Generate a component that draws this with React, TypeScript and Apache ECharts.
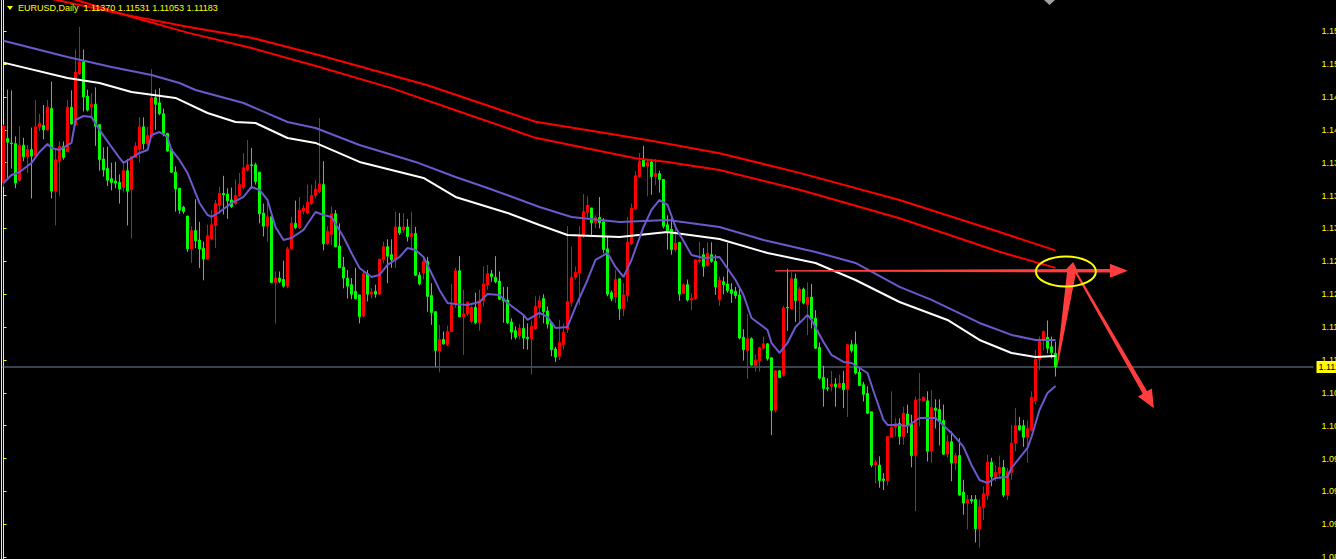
import React, { useEffect, useRef } from "react";
import * as echarts from "echarts";

const W = 1336;
const H = 559;

// ---- Chart data (EURUSD, Daily) ----
const symbolTitle = "EURUSD,Daily  1.11370 1.11531 1.11053 1.11183";
const lastPrice = 1.11183;
const slotCount = 328; // bar slots on the time axis (264 bars + chart shift)
const categories = Array.from({ length: slotCount }, (_, i) => `D${i + 1}`);

const open = [
  1.1371, 1.1431, 1.1425, 1.1424, 1.1374, 1.1422, 1.1406, 1.1416, 1.1407, 1.1447,
  1.1449, 1.1443, 1.1472, 1.1359, 1.1401, 1.1420, 1.1413, 1.1474, 1.1450, 1.1520,
  1.1536, 1.1489, 1.1474, 1.1478, 1.1450, 1.1403, 1.1390, 1.1376, 1.1373, 1.1371,
  1.1364, 1.1387, 1.1361, 1.1405, 1.1416, 1.1447, 1.1424, 1.1434, 1.1487, 1.1480,
  1.1465, 1.1438, 1.1416, 1.1385, 1.1363, 1.1337, 1.1325, 1.1280, 1.1305, 1.1292,
  1.1281, 1.1266, 1.1294, 1.1312, 1.1340, 1.1356, 1.1355, 1.1347, 1.1342, 1.1353,
  1.1364, 1.1388, 1.1395, 1.1395, 1.1385, 1.1329, 1.1311, 1.1324, 1.1234, 1.1240,
  1.1238, 1.1229, 1.1280, 1.1315, 1.1309, 1.1332, 1.1329, 1.1342, 1.1353, 1.1358,
  1.1368, 1.1287, 1.1300, 1.1328, 1.1284, 1.1255, 1.1240, 1.1231, 1.1222, 1.1217,
  1.1188, 1.1246, 1.1218, 1.1222, 1.1218, 1.1265, 1.1283, 1.1272, 1.1265, 1.1310,
  1.1306, 1.1310, 1.1297, 1.1301, 1.1244, 1.1247, 1.1263, 1.1216, 1.1194, 1.1140,
  1.1156, 1.1149, 1.1167, 1.1203, 1.1250, 1.1187, 1.1191, 1.1181, 1.1200, 1.1179,
  1.1209, 1.1231, 1.1246, 1.1241, 1.1236, 1.1212, 1.1210, 1.1180, 1.1168, 1.1161,
  1.1171, 1.1159, 1.1157, 1.1171, 1.1200, 1.1212, 1.1195, 1.1179, 1.1143, 1.1133,
  1.1149, 1.1170, 1.1207, 1.1241, 1.1247, 1.1299, 1.1330, 1.1336, 1.1316, 1.1323,
  1.1317, 1.1280, 1.1220, 1.1214, 1.1239, 1.1198, 1.1216, 1.1287, 1.1335, 1.1379,
  1.1402, 1.1393, 1.1399, 1.1379, 1.1383, 1.1375, 1.1313, 1.1307, 1.1279, 1.1289,
  1.1219, 1.1231, 1.1210, 1.1212, 1.1263, 1.1272, 1.1257, 1.1272, 1.1263, 1.1210,
  1.1235, 1.1232, 1.1224, 1.1222, 1.1217, 1.1159, 1.1141, 1.1157, 1.1120, 1.1127,
  1.1144, 1.1150, 1.1131, 1.1059, 1.1113, 1.1107, 1.1200, 1.1198, 1.1239, 1.1209,
  1.1225, 1.1204, 1.1214, 1.1185, 1.1145, 1.1104, 1.1090, 1.1092, 1.1095, 1.1090,
  1.1096, 1.1088, 1.1149, 1.1149, 1.1111, 1.1094, 1.1082, 1.1057, 1.0984, 1.0984,
  1.0965, 1.0963, 1.1022, 1.1036, 1.1041, 1.1023, 1.1054, 1.1040, 1.0997, 1.1073,
  1.1072, 1.1072, 1.1003, 1.1062, 1.1060, 1.1045, 1.0999, 1.1016, 1.0987, 1.0997,
  1.0947, 1.0932, 1.0937, 1.0937, 1.0897, 1.0926, 1.0943, 1.0988, 1.0968, 1.0973,
  1.0981, 1.0943, 1.0974, 1.1014, 1.1038, 1.1038, 1.1022, 1.1032, 1.1072, 1.1129,
  1.1156, 1.1159, 1.1146, 1.1137,
];

const high = [
  1.1450, 1.1498, 1.1497, 1.1434, 1.1448, 1.1432, 1.1422, 1.1446, 1.1484, 1.1465,
  1.1477, 1.1484, 1.1509, 1.1418, 1.1427, 1.1427, 1.1484, 1.1497, 1.1553, 1.1584,
  1.1553, 1.1498, 1.1493, 1.1501, 1.1450, 1.1419, 1.1420, 1.1398, 1.1399, 1.1382,
  1.1399, 1.1403, 1.1406, 1.1426, 1.1460, 1.1460, 1.1447, 1.1526, 1.1498, 1.1500,
  1.1472, 1.1439, 1.1416, 1.1393, 1.1363, 1.1339, 1.1325, 1.1311, 1.1348, 1.1317,
  1.1290, 1.1313, 1.1333, 1.1347, 1.1365, 1.1380, 1.1363, 1.1364, 1.1375, 1.1384,
  1.1411, 1.1429, 1.1418, 1.1398, 1.1385, 1.1342, 1.1349, 1.1329, 1.1249, 1.1249,
  1.1264, 1.1283, 1.1324, 1.1346, 1.1351, 1.1340, 1.1368, 1.1368, 1.1374, 1.1459,
  1.1400, 1.1311, 1.1338, 1.1333, 1.1315, 1.1269, 1.1251, 1.1240, 1.1254, 1.1217,
  1.1249, 1.1251, 1.1226, 1.1231, 1.1266, 1.1290, 1.1293, 1.1293, 1.1331, 1.1329,
  1.1329, 1.1321, 1.1331, 1.1310, 1.1248, 1.1270, 1.1269, 1.1233, 1.1194, 1.1176,
  1.1167, 1.1175, 1.1232, 1.1254, 1.1270, 1.1224, 1.1208, 1.1202, 1.1220, 1.1224,
  1.1256, 1.1258, 1.1251, 1.1270, 1.1249, 1.1228, 1.1228, 1.1185, 1.1174, 1.1177,
  1.1190, 1.1178, 1.1182, 1.1215, 1.1216, 1.1218, 1.1201, 1.1180, 1.1146, 1.1183,
  1.1178, 1.1311, 1.1283, 1.1256, 1.1311, 1.1355, 1.1352, 1.1336, 1.1326, 1.1351,
  1.1322, 1.1297, 1.1223, 1.1251, 1.1239, 1.1233, 1.1324, 1.1342, 1.1386, 1.1411,
  1.1421, 1.1403, 1.1403, 1.1403, 1.1387, 1.1375, 1.1326, 1.1322, 1.1308, 1.1289,
  1.1233, 1.1238, 1.1219, 1.1265, 1.1290, 1.1281, 1.1289, 1.1289, 1.1272, 1.1242,
  1.1242, 1.1288, 1.1233, 1.1228, 1.1228, 1.1170, 1.1191, 1.1159, 1.1135, 1.1146,
  1.1160, 1.1151, 1.1131, 1.1114, 1.1114, 1.1202, 1.1253, 1.1248, 1.1246, 1.1228,
  1.1227, 1.1234, 1.1232, 1.1196, 1.1152, 1.1120, 1.1103, 1.1113, 1.1103, 1.1108,
  1.1113, 1.1149, 1.1155, 1.1167, 1.1117, 1.1098, 1.1092, 1.1057, 1.0991, 1.0996,
  1.0973, 1.1023, 1.1085, 1.1048, 1.1048, 1.1064, 1.1067, 1.1053, 1.1078, 1.1110,
  1.1078, 1.1085, 1.1087, 1.1074, 1.1074, 1.1067, 1.1025, 1.1030, 1.1001, 1.1021,
  1.0964, 1.0943, 1.0943, 1.0943, 1.0937, 1.0955, 1.0998, 1.0994, 1.0984, 1.0997,
  1.0991, 1.0980, 1.1039, 1.1062, 1.1050, 1.1046, 1.1045, 1.1085, 1.1142, 1.1160,
  1.1168, 1.1182, 1.1160, 1.11531,
];

const low = [
  1.1365, 1.1374, 1.1390, 1.1363, 1.1372, 1.1400, 1.1384, 1.1349, 1.1406, 1.1441,
  1.1430, 1.1441, 1.1349, 1.1312, 1.1352, 1.1402, 1.1413, 1.1450, 1.1448, 1.1518,
  1.1468, 1.1468, 1.1461, 1.1421, 1.1387, 1.1379, 1.1366, 1.1360, 1.1363, 1.1342,
  1.1357, 1.1312, 1.1294, 1.1405, 1.1398, 1.1416, 1.1422, 1.1434, 1.1443, 1.1463,
  1.1434, 1.1413, 1.1384, 1.1331, 1.1328, 1.1328, 1.1276, 1.1261, 1.1281, 1.1254,
  1.1237, 1.1265, 1.1292, 1.1281, 1.1328, 1.1327, 1.1321, 1.1336, 1.1340, 1.1351,
  1.1361, 1.1386, 1.1362, 1.1368, 1.1315, 1.1297, 1.1290, 1.1233, 1.1178, 1.1233,
  1.1227, 1.1226, 1.1279, 1.1307, 1.1307, 1.1327, 1.1327, 1.1340, 1.1349, 1.1356,
  1.1278, 1.1285, 1.1285, 1.1282, 1.1254, 1.1226, 1.1212, 1.1211, 1.1211, 1.1178,
  1.1187, 1.1208, 1.1212, 1.1213, 1.1218, 1.1260, 1.1233, 1.1254, 1.1254, 1.1299,
  1.1302, 1.1290, 1.1279, 1.1243, 1.1230, 1.1238, 1.1194, 1.1176, 1.1119, 1.1111,
  1.1149, 1.1147, 1.1167, 1.1199, 1.1187, 1.1135, 1.1188, 1.1178, 1.1177, 1.1168,
  1.1201, 1.1224, 1.1235, 1.1233, 1.1210, 1.1179, 1.1177, 1.1156, 1.1156, 1.1156,
  1.1143, 1.1142, 1.1108, 1.1169, 1.1185, 1.1178, 1.1171, 1.1133, 1.1125, 1.1128,
  1.1142, 1.1165, 1.1201, 1.1238, 1.1203, 1.1295, 1.1320, 1.1296, 1.1308, 1.1308,
  1.1274, 1.1215, 1.1208, 1.1206, 1.1183, 1.1188, 1.1208, 1.1285, 1.1333, 1.1377,
  1.1392, 1.1352, 1.1354, 1.1367, 1.1357, 1.1308, 1.1279, 1.1272, 1.1276, 1.1209,
  1.1218, 1.1208, 1.1196, 1.1210, 1.1260, 1.1242, 1.1256, 1.1261, 1.1217, 1.1202,
  1.1218, 1.1220, 1.1206, 1.1212, 1.1156, 1.1127, 1.1102, 1.1120, 1.1112, 1.1112,
  1.1142, 1.1127, 1.1025, 1.1056, 1.1103, 1.1105, 1.1168, 1.1197, 1.1180, 1.1180,
  1.1204, 1.1162, 1.1171, 1.1143, 1.1101, 1.1064, 1.1085, 1.1085, 1.1064, 1.1089,
  1.1062, 1.1050, 1.1138, 1.1108, 1.1092, 1.1071, 1.1054, 1.0981, 1.0959, 1.0953,
  1.0950, 1.0956, 1.1021, 1.1023, 1.1012, 1.1012, 1.1028, 1.0981, 1.0921, 1.1037,
  1.1071, 1.0989, 1.0987, 1.1034, 1.1011, 1.0998, 1.0994, 1.0962, 1.0977, 1.0942,
  1.0916, 1.0896, 1.0931, 1.0878, 1.0871, 1.0909, 1.0936, 1.0955, 1.0962, 1.0968,
  1.0940, 1.0936, 1.0964, 1.1003, 1.1031, 1.1009, 1.0987, 1.1030, 1.1067, 1.1114,
  1.1142, 1.1137, 1.1130, 1.11053,
];

const close = [
  1.1448, 1.1426, 1.1424, 1.1370, 1.1422, 1.1406, 1.1416, 1.1407, 1.1447, 1.1452,
  1.1443, 1.1474, 1.1359, 1.1402, 1.1420, 1.1405, 1.1474, 1.1451, 1.1522, 1.1536,
  1.1488, 1.1470, 1.1478, 1.1448, 1.1402, 1.1388, 1.1374, 1.1371, 1.1370, 1.1362,
  1.1387, 1.1359, 1.1406, 1.1421, 1.1447, 1.1424, 1.1435, 1.1487, 1.1478, 1.1465,
  1.1438, 1.1414, 1.1385, 1.1362, 1.1333, 1.1331, 1.1280, 1.1305, 1.1291, 1.1280,
  1.1266, 1.1298, 1.1313, 1.1342, 1.1356, 1.1354, 1.1346, 1.1338, 1.1353, 1.1368,
  1.1391, 1.1395, 1.1394, 1.1372, 1.1328, 1.1311, 1.1324, 1.1234, 1.1240, 1.1235,
  1.1229, 1.1280, 1.1315, 1.1309, 1.1333, 1.1336, 1.1344, 1.1353, 1.1362, 1.1369,
  1.1287, 1.1304, 1.1328, 1.1283, 1.1254, 1.1240, 1.1229, 1.1218, 1.1212, 1.1187,
  1.1246, 1.1218, 1.1221, 1.1218, 1.1266, 1.1283, 1.1270, 1.1265, 1.1310, 1.1302,
  1.1310, 1.1297, 1.1301, 1.1244, 1.1232, 1.1263, 1.1215, 1.1193, 1.1141, 1.1156,
  1.1150, 1.1167, 1.1203, 1.1250, 1.1187, 1.1191, 1.1207, 1.1200, 1.1179, 1.1209,
  1.1232, 1.1246, 1.1242, 1.1235, 1.1211, 1.1209, 1.1179, 1.1166, 1.1159, 1.1171,
  1.1158, 1.1157, 1.1174, 1.1201, 1.1209, 1.1194, 1.1177, 1.1142, 1.1132, 1.1152,
  1.1166, 1.1208, 1.1241, 1.1248, 1.1299, 1.1331, 1.1340, 1.1316, 1.1323, 1.1316,
  1.1279, 1.1218, 1.1212, 1.1238, 1.1198, 1.1217, 1.1289, 1.1336, 1.1380, 1.1400,
  1.1393, 1.1398, 1.1379, 1.1383, 1.1375, 1.1311, 1.1305, 1.1279, 1.1288, 1.1218,
  1.1231, 1.1210, 1.1212, 1.1265, 1.1265, 1.1256, 1.1274, 1.1263, 1.1228, 1.1237,
  1.1231, 1.1223, 1.1219, 1.1216, 1.1158, 1.1142, 1.1157, 1.1121, 1.1128, 1.1145,
  1.1150, 1.1130, 1.1059, 1.1113, 1.1104, 1.1199, 1.1199, 1.1239, 1.1209, 1.1225,
  1.1206, 1.1214, 1.1184, 1.1144, 1.1103, 1.1089, 1.1089, 1.1095, 1.1091, 1.1096,
  1.1087, 1.1149, 1.1141, 1.1110, 1.1093, 1.1081, 1.1055, 1.0984, 1.0988, 1.0963,
  1.0963, 1.1023, 1.1036, 1.1041, 1.1023, 1.1055, 1.1039, 1.0997, 1.1073, 1.1074,
  1.1077, 1.1003, 1.1063, 1.1059, 1.1044, 1.0999, 1.1016, 1.0987, 1.0997, 1.0943,
  1.0932, 1.0937, 1.0935, 1.0897, 1.0927, 1.0945, 1.0988, 1.0968, 1.0974, 1.0981,
  1.0943, 1.0975, 1.1014, 1.1038, 1.1032, 1.1022, 1.1034, 1.1077, 1.1129, 1.1156,
  1.1167, 1.1144, 1.1138, 1.11183,
];

// Moving averages as [bar index, price]
const fastMA = [
  [0, 1.13702], [2, 1.13812], [4, 1.13853], [7, 1.13976], [9, 1.14126], [11, 1.14236],
  [12, 1.14181], [14, 1.14154], [17, 1.1425], [18, 1.14564], [20, 1.14619], [22, 1.14606],
  [24, 1.14428], [27, 1.14195], [29, 1.14044], [30, 1.13976], [32, 1.14044], [34, 1.14113],
  [36, 1.14154], [37, 1.14359], [39, 1.144], [41, 1.14332], [42, 1.14154], [44, 1.14017],
  [46, 1.13839], [49, 1.13428], [51, 1.13264], [52, 1.13237], [54, 1.13305], [57, 1.13428],
  [60, 1.13511], [62, 1.13647], [64, 1.13606], [66, 1.13469], [68, 1.131], [70, 1.12922],
  [72, 1.12949], [75, 1.13059], [78, 1.13305], [80, 1.13264], [82, 1.13237], [85, 1.12963],
  [87, 1.12744], [89, 1.12539], [92, 1.12415], [94, 1.12443], [96, 1.1258], [99, 1.12689],
  [101, 1.12812], [103, 1.12785], [105, 1.12689], [106, 1.1258], [109, 1.12238], [111, 1.1206],
  [113, 1.12046], [116, 1.12032], [119, 1.12073], [121, 1.12183], [124, 1.12169], [126, 1.1206],
  [130, 1.11895], [131, 1.11827], [134, 1.11923], [136, 1.11868], [138, 1.11717], [141, 1.11731],
  [143, 1.12005], [146, 1.12374], [148, 1.12648], [151, 1.12744], [153, 1.12552], [155, 1.12415],
  [157, 1.12648], [160, 1.131], [162, 1.13333], [164, 1.13469], [166, 1.13401], [168, 1.131],
  [172, 1.12717], [175, 1.12676], [179, 1.12689], [183, 1.12374], [185, 1.12169], [187, 1.11854],
  [191, 1.1169], [192, 1.11512], [194, 1.11375], [196, 1.11512], [198, 1.11731], [201, 1.11895],
  [202, 1.11827], [205, 1.11526], [207, 1.11348], [210, 1.11252], [212, 1.11238], [216, 1.11101],
  [218, 1.10773], [220, 1.10458], [221, 1.1039], [224, 1.1039], [226, 1.10376], [229, 1.10485],
  [233, 1.10485], [237, 1.1028], [240, 1.10089], [242, 1.09842], [244, 1.09637], [246, 1.09596],
  [248, 1.09664], [251, 1.09678], [252, 1.09801], [256, 1.10075], [257, 1.10225], [259, 1.10595],
  [261, 1.10828], [263, 1.10923],
];

const slowMA = [
  [0, 1.1565], [16, 1.15427], [27, 1.1529], [37, 1.1518], [44, 1.15071], [48, 1.14975],
  [60, 1.14797], [71, 1.14537], [78, 1.14455], [89, 1.14222], [103, 1.1399], [113, 1.13784],
  [121, 1.13634], [134, 1.13374], [142, 1.13237], [154, 1.13168], [166, 1.13196], [179, 1.131],
  [190, 1.12922], [203, 1.12758], [213, 1.12607], [224, 1.12279], [232, 1.12101], [244, 1.11786],
  [252, 1.11622], [258, 1.11553], [263, 1.11553],
];

const whiteMA = [
  [0, 1.15349], [16, 1.15139], [24, 1.15071], [32, 1.14948], [43, 1.14866], [51, 1.1466],
  [58, 1.14537], [63, 1.14523], [71, 1.14318], [78, 1.1425], [89, 1.1399], [105, 1.13771],
  [113, 1.13511], [126, 1.13292], [134, 1.13127], [141, 1.1299], [154, 1.12963], [166, 1.13031],
  [179, 1.12936], [191, 1.12744], [203, 1.12607], [213, 1.12374], [224, 1.12073], [236, 1.11827],
  [244, 1.11553], [252, 1.11375], [258, 1.1132], [263, 1.11334],
];

const upperRedMA = [
  [0, 1.1637], [13, 1.1621], [29, 1.1602], [46, 1.1584], [62, 1.1569], [79, 1.1545],
  [106, 1.1504], [133, 1.1454], [150, 1.1439], [162, 1.1428], [179, 1.1411], [199, 1.1384],
  [224, 1.1347], [249, 1.1303], [263, 1.1278],
];

const lowerRedMA = [
  [0, 1.1652], [18, 1.1621], [33, 1.1596], [46, 1.1576], [62, 1.1555], [79, 1.1529],
  [97, 1.15], [115, 1.1466], [133, 1.1432], [150, 1.1413], [158, 1.1404], [166, 1.1399],
  [179, 1.1388], [199, 1.1361], [224, 1.1322], [249, 1.1276], [263, 1.1254],
];

// Price scale
const priceMin = 1.085549;
const priceMax = 1.162066;
const priceTicks = [
  1.1578, 1.1533, 1.1488, 1.1443, 1.1398, 1.1353, 1.1308, 1.1263, 1.1218,
  1.1173, 1.1128, 1.1083, 1.1038, 1.0993, 1.0948, 1.0903, 1.0858,
];

// Hand-drawn annotations, anchored in [bar index, price]
const levelArrow = [[192.9, 1.125], [281.1, 1.125]];
const upArrow = [[263.4, 1.1120], [267.4, 1.1262]];
const downArrow = [[268.1, 1.1248], [287.6, 1.1062]];
const ellipseCenter = [265.6, 1.1249];

const YELLOW = "#ffff00";
const ANNOT_RED = "#ff3d3d";

function arrowPolygon(
  a: number[], b: number[], w0: number, w1: number, headLen: number, headHalf: number
) {
  const dx = b[0] - a[0];
  const dy = b[1] - a[1];
  const len = Math.hypot(dx, dy) || 1;
  const ux = dx / len, uy = dy / len;
  const nx = -uy, ny = ux;
  const bx = b[0] - ux * headLen, by = b[1] - uy * headLen;
  return [
    [a[0] + (nx * w0) / 2, a[1] + (ny * w0) / 2],
    [bx + (nx * w1) / 2, by + (ny * w1) / 2],
    [bx + nx * headHalf, by + ny * headHalf],
    [b[0], b[1]],
    [bx - nx * headHalf, by - ny * headHalf],
    [bx - (nx * w1) / 2, by - (ny * w1) / 2],
    [a[0] - (nx * w0) / 2, a[1] - (ny * w0) / 2],
  ];
}

export default function App() {
  const ref = useRef<HTMLDivElement>(null);

  useEffect(() => {
    document.body.style.margin = "0";
    document.body.style.background = "#000";
    const chart = echarts.init(ref.current as HTMLDivElement, null, {
      renderer: "svg",
      width: W,
      height: H,
    });

    const candles = open.map((o, i) => [o, close[i], low[i], high[i]]);
    const lineSeries = (data: number[][], color: string, width: number, extra: any = {}) => ({
      type: "line",
      xAxisIndex: 1,
      yAxisIndex: 0,
      data,
      symbol: "none",
      silent: true,
      z: 3,
      lineStyle: { color, width },
      emphasis: { disabled: true },
      ...extra,
    });

    chart.setOption({
      animation: false,
      backgroundColor: "#000000",
      textStyle: { fontFamily: "Liberation Sans" },
      grid: {
        left: 1.5,
        top: 0,
        width: slotCount * 4,
        height: H,
        containLabel: false,
        outerBoundsMode: "none",
      },
      xAxis: [
        { type: "category", data: categories, boundaryGap: true, show: false },
        { type: "value", min: -0.5, max: slotCount - 0.5, show: false },
      ],
      yAxis: {
        type: "value",
        position: "right",
        offset: 2,
        min: priceMin,
        max: priceMax,
        scale: true,
        splitLine: { show: false },
        axisLine: { show: true, lineStyle: { color: YELLOW, width: 1 } },
        axisTick: {
          show: true,
          length: 3,
          customValues: priceTicks,
          lineStyle: { color: YELLOW, width: 1 },
        },
        axisLabel: {
          show: true,
          customValues: priceTicks,
          margin: 6,
          color: YELLOW,
          fontSize: 9,
          fontFamily: "Liberation Sans",
          formatter: (v: number) => v.toFixed(5),
        },
      },
      series: [
        {
          type: "candlestick",
          xAxisIndex: 0,
          yAxisIndex: 0,
          data: candles,
          barWidth: 2,
          silent: true,
          emphasis: { disabled: true },
          itemStyle: {
            color: "#ff0000",
            color0: "#00ff00",
            borderColor: "#ff0000",
            borderColor0: "#00ff00",
            borderColorDoji: "#00ff00",
            borderWidth: 1,
          },
        },
        lineSeries(
          [[-0.5, lastPrice], [slotCount - 0.5, lastPrice]],
          "#778899",
          1,
          {
            z: 2,
            endLabel: {
              show: true,
              distance: 3,
              formatter: lastPrice.toFixed(5),
              color: "#000000",
              backgroundColor: YELLOW,
              fontSize: 9,
              fontFamily: "Liberation Sans",
              padding: [2, 2, 1, 2],
            },
          }
        ),
        lineSeries(upperRedMA, "#ff0000", 2),
        lineSeries(lowerRedMA, "#ff0000", 2),
        lineSeries(slowMA, "#6a5acd", 2),
        lineSeries(whiteMA, "#ffffff", 2),
        lineSeries(fastMA, "#6a5acd", 2),
      ],
    });

    const toPx = (p: number[]) => [
      chart.convertToPixel({ xAxisIndex: 1 }, p[0]) as unknown as number,
      chart.convertToPixel({ yAxisIndex: 0 }, p[1]) as unknown as number,
    ];

    const lv0 = toPx(levelArrow[0]);
    const lv1 = toPx(levelArrow[1]);
    const up0 = toPx(upArrow[0]);
    const up1 = toPx(upArrow[1]);
    const dn0 = toPx(downArrow[0]);
    const dn1 = toPx(downArrow[1]);
    const ec = toPx(ellipseCenter);

    chart.setOption({
      graphic: [
        {
          type: "line",
          z: 50,
          silent: true,
          shape: { x1: 1.5, y1: 0, x2: 1.5, y2: H },
          style: { stroke: YELLOW, lineWidth: 1 },
        },
        {
          type: "polygon",
          z: 50,
          silent: true,
          shape: { points: [[7, 6], [13, 6], [10, 10]] },
          style: { fill: YELLOW },
        },
        {
          type: "text",
          z: 50,
          silent: true,
          x: 18,
          y: 8,
          style: {
            text: symbolTitle,
            fill: YELLOW,
            fontSize: 9,
            fontFamily: "Liberation Sans",
            verticalAlign: "middle",
          },
        },
        {
          type: "polygon",
          z: 50,
          silent: true,
          shape: { points: [[1044, 0], [1055, 0], [1049.5, 5]] },
          style: { fill: "#a0a0a0" },
        },
        {
          type: "polygon",
          z: 60,
          silent: true,
          shape: { points: arrowPolygon(lv0, lv1, 1.2, 3.5, 18, 7) },
          style: { fill: ANNOT_RED },
        },
        {
          type: "polygon",
          z: 60,
          silent: true,
          shape: { points: arrowPolygon(up0, up1, 1.2, 9, 10, 7) },
          style: { fill: ANNOT_RED },
        },
        {
          type: "polygon",
          z: 60,
          silent: true,
          shape: { points: arrowPolygon(dn0, dn1, 2, 5, 18, 8) },
          style: { fill: ANNOT_RED },
        },
        {
          type: "ellipse",
          z: 61,
          silent: true,
          shape: { cx: ec[0], cy: ec[1], rx: 30, ry: 15 },
          style: { fill: "none", stroke: YELLOW, lineWidth: 2 },
        },
      ],
    });

    return () => chart.dispose();
  }, []);

  return (
    <div
      ref={ref}
      style={{ position: "fixed", left: 0, top: 0, width: W, height: H, background: "#000" }}
    />
  );
}
